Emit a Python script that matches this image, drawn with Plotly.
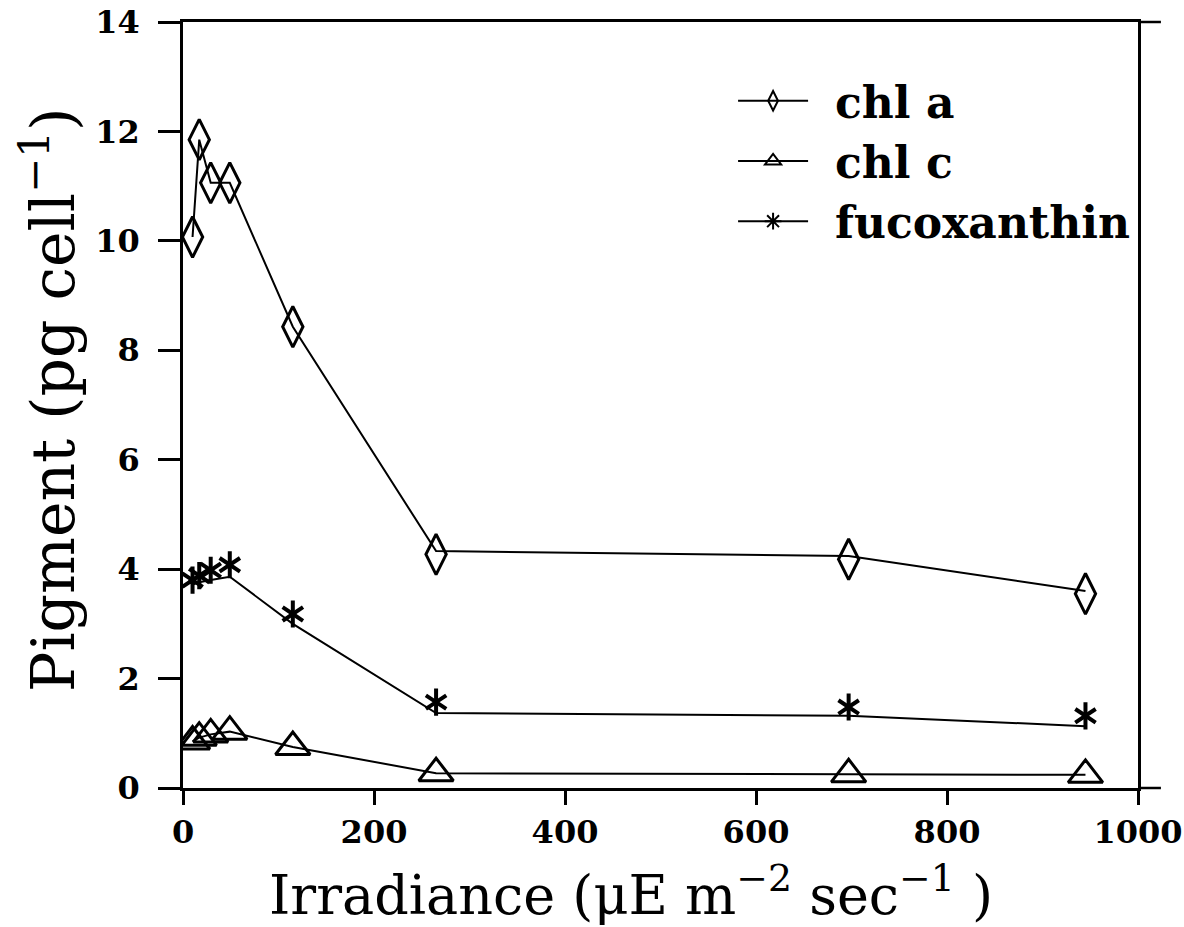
import plotly.graph_objects as go

# ---- data ----
irradiance = [10, 17, 29, 49, 115, 265, 697, 945]

chl_a_line = [10.07, 11.85, 11.06, 11.06, 8.43, 4.33, 4.24, 3.60]
chl_a_mark = [10.07, 11.85, 11.06, 11.06, 8.43, 4.27, 4.18, 3.55]

chl_c = [0.85, 0.92, 0.98, 1.03, 0.75, 0.27, 0.25, 0.24]

fuco_line = [3.72, 3.76, 3.80, 3.86, 3.00, 1.37, 1.32, 1.13]
fuco_mark = [3.80, 3.88, 3.98, 4.08, 3.18, 1.57, 1.48, 1.32]

series_names = ["chl a", "chl c", "fucoxanthin"]
x_ticks = [0, 200, 400, 600, 800, 1000]
y_ticks = [0, 2, 4, 6, 8, 10, 12, 14]

BLACK = "#000000"
SERIF = "DejaVu Serif, Liberation Serif, serif"

fig = go.Figure()

line_style = dict(color=BLACK, width=2)

# chl a
fig.add_trace(go.Scatter(x=irradiance, y=chl_a_line, mode="lines",
                         line=line_style, showlegend=False, hoverinfo="skip"))
fig.add_trace(go.Scatter(x=irradiance, y=chl_a_mark, mode="markers",
                         marker=dict(symbol="diamond-tall-open", size=29, color=BLACK,
                                     line=dict(color=BLACK, width=3)),
                         showlegend=False))
# chl c
fig.add_trace(go.Scatter(x=irradiance, y=chl_c, mode="lines+markers",
                         line=line_style,
                         marker=dict(symbol="triangle-up-open", size=30, color=BLACK,
                                     line=dict(color=BLACK, width=3)),
                         showlegend=False))
# fucoxanthin
fig.add_trace(go.Scatter(x=irradiance, y=fuco_line, mode="lines",
                         line=line_style, showlegend=False, hoverinfo="skip"))
for sym in ["y-up", "y-down"]:
    fig.add_trace(go.Scatter(x=irradiance, y=fuco_mark, mode="markers",
                             marker=dict(symbol=sym, size=17, color=BLACK,
                                         line=dict(color=BLACK, width=4)),
                             showlegend=False))

# legend entries
legend_syms = ["diamond-tall-open", "triangle-up-open", "asterisk-open"]
for name, sym in zip(series_names, legend_syms):
    fig.add_trace(go.Scatter(x=[None], y=[None], mode="lines+markers",
                             name="\u2002" + name,
                             line=dict(color=BLACK, width=2),
                             marker=dict(symbol=sym, size=14, color=BLACK,
                                         line=dict(color=BLACK, width=2))))

# axis titles as annotations
fig.add_annotation(text="Irradiance (\u03bcE m<sup>\u22122</sup> sec<sup>\u22121</sup> )",
                   xref="paper", yref="paper", x=0.469, y=-0.135,
                   xanchor="center", yanchor="middle", showarrow=False,
                   font=dict(family=SERIF, size=54, color=BLACK))
fig.add_annotation(text="Pigment (pg cell<sup>\u22121</sup>)",
                   xref="paper", yref="paper", x=-0.141, y=0.507, textangle=-90,
                   xanchor="center", yanchor="middle", showarrow=False,
                   font=dict(family=SERIF, size=60, color=BLACK))

# small frame extensions beyond the right edge (top and bottom lines)
for yy in [0, 1]:
    fig.add_shape(type="line", xref="paper", yref="paper", x0=1, x1=1.024, y0=yy, y1=yy,
                  line=dict(color=BLACK, width=2.5))

axis_common = dict(showline=True, linecolor=BLACK, linewidth=2.5, mirror=True,
                   ticks="outside", tickcolor=BLACK, tickwidth=2.5,
                   showgrid=False, zeroline=False, automargin=False,
                   tickfont=dict(family=SERIF, size=32, color=BLACK, weight="bold"))

fig.update_layout(
    width=1184, height=927,
    margin=dict(l=183, r=46, t=22, b=139, autoexpand=False),
    paper_bgcolor="white", plot_bgcolor="white",
    xaxis=dict(range=[0, 1000], tickvals=x_ticks, ticklen=14, **axis_common),
    yaxis=dict(range=[0, 14], tickvals=y_ticks, ticklen=22, ticklabelstandoff=12, **axis_common),
    legend=dict(x=0.576, y=0.943, xanchor="left", yanchor="top",
                font=dict(family=SERIF, size=44, color=BLACK, weight="bold"),
                bgcolor="rgba(0,0,0,0)", itemwidth=70, tracegroupgap=0),
    showlegend=True,
)

fig.write_html("out.html",
               config={"displayModeBar": False},
               post_script="document.body.style.margin='0';document.body.style.padding='0';")
